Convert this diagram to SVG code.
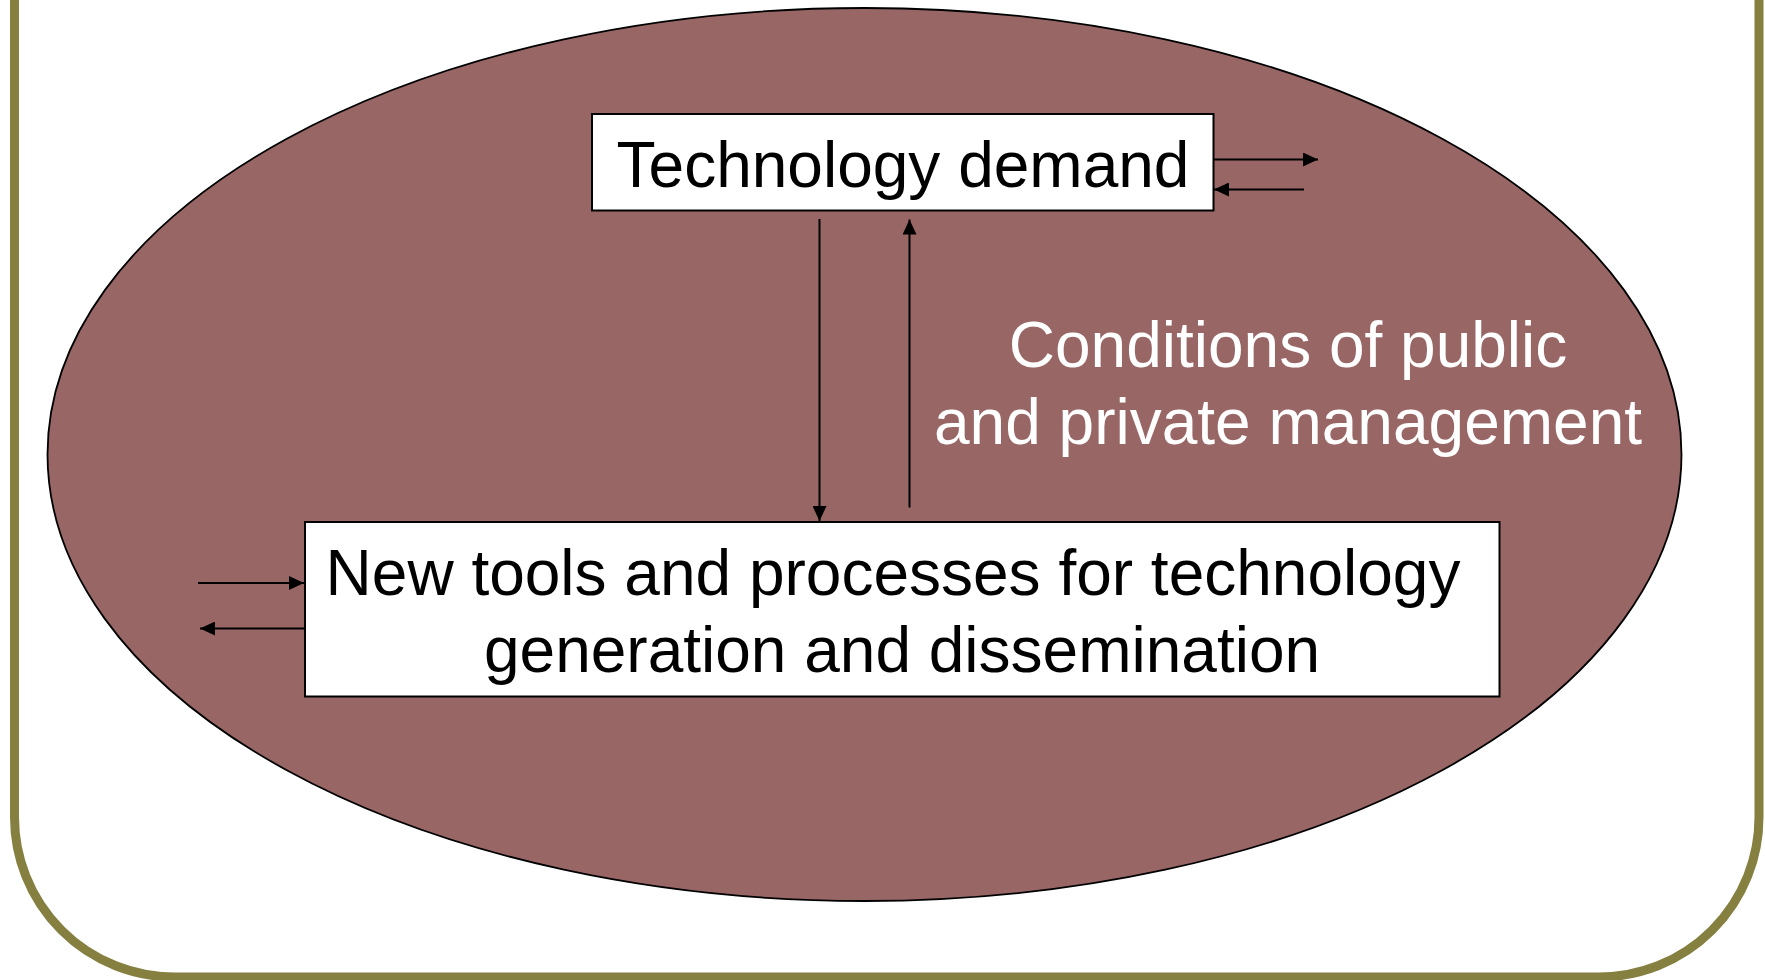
<svg xmlns="http://www.w3.org/2000/svg" width="1765" height="980" viewBox="0 0 1765 980">
  <style>
    .frame { fill: #ffffff; stroke: #857F40; stroke-width: 9; }
    .field { fill: #996666; stroke: #000000; stroke-width: 1.8; }
    .box { fill: #ffffff; stroke: #000000; stroke-width: 2; }
    .label { font-family: "Liberation Sans", Arial, sans-serif; font-size: 64px; text-anchor: middle; fill: #000000; }
    .note { font-family: "Liberation Sans", Arial, sans-serif; font-size: 64px; text-anchor: middle; fill: #ffffff; }
    .link { fill: none; stroke: #000000; stroke-width: 2; marker-end: url(#ah); }
  </style>
  <defs>
    <marker id="ah" markerWidth="15" markerHeight="14" refX="15" refY="7" orient="auto" markerUnits="userSpaceOnUse">
      <path d="M0,0 L15,7 L0,14 z" fill="#000000"/>
    </marker>
  </defs>

  <rect width="1765" height="980" fill="#ffffff"/>

  <!-- outer rounded frame -->
  <rect class="frame" x="14.5" y="-300" width="1744.5" height="1277" rx="160" ry="160"/>

  <!-- management field -->
  <g id="management">
    <ellipse class="field" cx="864.5" cy="454.5" rx="817" ry="446.5"/>
    <text class="note" x="1288" y="367">Conditions of public</text>
    <text class="note" x="1288" y="444">and private management</text>
  </g>

  <!-- connectors -->
  <g id="connectors">
    <line class="link" x1="1214" y1="159.5" x2="1318" y2="159.5"/>
    <line class="link" x1="1304" y1="189.5" x2="1214" y2="189.5"/>
    <line class="link" x1="819.5" y1="219" x2="819.5" y2="521"/>
    <line class="link" x1="909.5" y1="507.5" x2="909.5" y2="219.5"/>
    <line class="link" x1="198" y1="583" x2="304" y2="583"/>
    <line class="link" x1="305" y1="628.5" x2="200" y2="628.5"/>
  </g>

  <!-- technology demand -->
  <g id="demand">
    <rect class="box" x="592" y="114" width="621.5" height="96.5"/>
    <text class="label" x="903" y="187">Technology demand</text>
  </g>

  <!-- tools and processes -->
  <g id="tools">
    <rect class="box" x="305" y="522" width="1194.5" height="174.5"/>
    <text class="label" x="893" y="595">New tools and processes for technology</text>
    <text class="label" x="902" y="672">generation and dissemination</text>
  </g>
</svg>
